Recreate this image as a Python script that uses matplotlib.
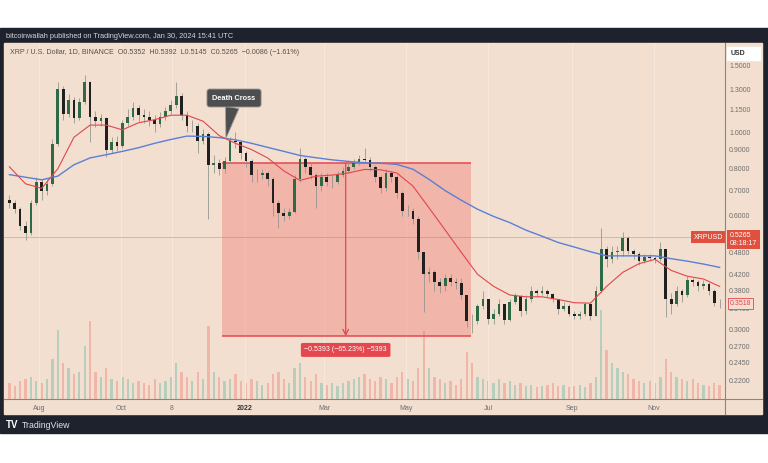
import numpy as np
import pandas as pd
import matplotlib
matplotlib.use('Agg')
import matplotlib.pyplot as plt
import matplotlib.dates as mdates
import matplotlib.transforms as mtransforms
from matplotlib.patches import Rectangle
from matplotlib.lines import Line2D
from matplotlib.ticker import NullLocator

plt.rcParams['font.family'] = ['Liberation Sans', 'DejaVu Sans']

# XRP/USD, 4-day candles (Jul 2021 - Dec 2022)
first_open = 0.66
close = [0.648, 0.625, 0.565, 0.54, 0.65, 0.74, 0.70, 0.73, 0.93, 1.30,
         1.12, 1.22, 1.09, 1.20, 1.36, 1.10, 1.07, 1.09, 0.90, 0.94,
         0.92, 1.06, 1.10, 1.16, 1.11, 1.10, 1.08, 1.05, 1.10, 1.14,
         1.18, 1.25, 1.11, 1.04, 1.04, 0.95, 0.99, 0.82, 0.83, 0.80,
         0.84, 0.95, 0.94, 0.88, 0.84, 0.77, 0.772, 0.78, 0.75, 0.65,
         0.61, 0.60, 0.615, 0.75, 0.85, 0.81, 0.77, 0.72, 0.76, 0.74,
         0.74, 0.77, 0.79, 0.81, 0.83, 0.85, 0.845, 0.81, 0.76, 0.71,
         0.78, 0.76, 0.69, 0.62, 0.62, 0.59, 0.48, 0.42, 0.425, 0.40,
         0.39, 0.41, 0.40, 0.398, 0.37, 0.316, 0.315, 0.345, 0.36, 0.32,
         0.33, 0.35, 0.318, 0.355, 0.368, 0.335, 0.362, 0.38, 0.375, 0.38,
         0.372, 0.36, 0.34, 0.345, 0.33, 0.326, 0.33, 0.35, 0.326, 0.38,
         0.49, 0.46, 0.48, 0.485, 0.525, 0.485, 0.475, 0.455, 0.467, 0.465,
         0.46, 0.49, 0.36, 0.35, 0.38, 0.37, 0.405, 0.40, 0.39, 0.395,
         0.38, 0.352, 0.3518]
high = [0.68, 0.66, 0.635, 0.58, 0.66, 0.76, 0.75, 0.75, 0.96, 1.36,
        1.33, 1.26, 1.24, 1.23, 1.42, 1.37, 1.14, 1.12, 1.10, 0.97,
        0.98, 1.08, 1.15, 1.20, 1.18, 1.15, 1.14, 1.11, 1.13, 1.17,
        1.22, 1.36, 1.27, 1.14, 1.08, 1.06, 1.02, 1.00, 0.87, 0.85,
        0.86, 0.97, 1.00, 0.95, 0.89, 0.85, 0.80, 0.80, 0.79, 0.76,
        0.66, 0.63, 0.63, 0.77, 0.91, 0.86, 0.83, 0.78, 0.78, 0.78,
        0.77, 0.79, 0.81, 0.83, 0.85, 0.87, 0.91, 0.86, 0.82, 0.77,
        0.80, 0.79, 0.77, 0.70, 0.64, 0.63, 0.60, 0.48, 0.44, 0.43,
        0.41, 0.42, 0.42, 0.41, 0.41, 0.37, 0.33, 0.35, 0.38, 0.36,
        0.34, 0.36, 0.35, 0.36, 0.375, 0.37, 0.37, 0.39, 0.385, 0.39,
        0.385, 0.375, 0.36, 0.355, 0.35, 0.335, 0.335, 0.355, 0.352, 0.39,
        0.557, 0.50, 0.50, 0.50, 0.544, 0.53, 0.49, 0.48, 0.475, 0.475,
        0.47, 0.51, 0.49, 0.375, 0.39, 0.385, 0.415, 0.41, 0.405, 0.405,
        0.40, 0.385, 0.36]
low = [0.63, 0.61, 0.55, 0.518, 0.535, 0.64, 0.66, 0.68, 0.72, 0.92,
       1.08, 1.10, 1.06, 1.08, 1.19, 0.94, 1.03, 1.04, 0.86, 0.88,
       0.89, 0.91, 1.04, 1.08, 1.07, 1.06, 1.04, 1.00, 1.03, 1.08,
       1.12, 1.16, 1.08, 1.00, 1.00, 0.88, 0.93, 0.59, 0.78, 0.77,
       0.78, 0.83, 0.91, 0.85, 0.81, 0.74, 0.74, 0.75, 0.72, 0.60,
       0.557, 0.58, 0.59, 0.61, 0.74, 0.78, 0.75, 0.63, 0.70, 0.72,
       0.71, 0.73, 0.76, 0.78, 0.80, 0.82, 0.83, 0.79, 0.74, 0.69,
       0.70, 0.74, 0.67, 0.60, 0.60, 0.57, 0.46, 0.334, 0.40, 0.38,
       0.375, 0.38, 0.39, 0.385, 0.36, 0.305, 0.294, 0.31, 0.34, 0.31,
       0.31, 0.325, 0.31, 0.315, 0.35, 0.325, 0.33, 0.355, 0.365, 0.37,
       0.365, 0.355, 0.33, 0.335, 0.325, 0.32, 0.32, 0.325, 0.318, 0.325,
       0.375, 0.44, 0.45, 0.46, 0.47, 0.475, 0.46, 0.445, 0.45, 0.455,
       0.45, 0.455, 0.324, 0.33, 0.345, 0.355, 0.365, 0.39, 0.38, 0.385,
       0.37, 0.345, 0.342]
volume = [18, 15, 20, 22, 25, 20, 18, 22, 45, 78,
          40, 35, 28, 30, 60, 88, 30, 25, 35, 22,
          20, 25, 22, 18, 20, 18, 16, 22, 18, 20,
          25, 40, 30, 25, 20, 30, 22, 82, 30, 25,
          20, 22, 28, 20, 18, 22, 20, 16, 18, 28,
          30, 22, 18, 35, 40, 25, 20, 28, 18, 16,
          18, 15, 18, 20, 22, 25, 28, 22, 20, 25,
          22, 18, 25, 30, 22, 20, 35, 76, 35, 25,
          22, 18, 20, 16, 22, 53, 40, 25, 22, 20,
          18, 22, 18, 20, 16, 18, 15, 16, 14, 15,
          16, 18, 15, 16, 14, 15, 16, 14, 18, 25,
          100, 55, 40, 35, 30, 28, 22, 20, 18, 20,
          18, 25, 45, 30, 25, 22, 20, 22, 18, 16,
          15, 18, 16]

# moving averages, read every third candle
ma50 = [0.81, 0.73, 0.71, 0.80, 0.97, 1.045, 1.045, 1.015, 1.06, 1.08,
        1.11, 1.11, 1.07, 0.98, 0.935, 0.90, 0.855, 0.79, 0.745, 0.765,
        0.77, 0.78, 0.797, 0.795, 0.78, 0.72, 0.63, 0.55, 0.48, 0.42,
        0.39, 0.37, 0.366, 0.366, 0.36, 0.353, 0.352, 0.39, 0.425, 0.448,
        0.46, 0.43, 0.415, 0.408, 0.39]
ma200 = [0.772, 0.76, 0.748, 0.765, 0.82, 0.855, 0.872, 0.89, 0.91, 0.935,
         0.957, 0.977, 0.975, 0.968, 0.955, 0.935, 0.912, 0.89, 0.868, 0.856,
         0.845, 0.837, 0.83, 0.828, 0.822, 0.798, 0.75, 0.70, 0.66, 0.625,
         0.598, 0.576, 0.55, 0.53, 0.51, 0.496, 0.482, 0.47, 0.47, 0.47,
         0.47, 0.462, 0.455, 0.447, 0.438]

price_ticks = [1.5, 1.3, 1.15, 1.0, 0.9, 0.8, 0.7, 0.6, 0.54, 0.48, 0.42,
               0.38, 0.34, 0.30, 0.27, 0.245, 0.22]
month_ticks = ['2021-08-01', '2021-10-01', '2021-11-08', '2022-01-01', '2022-03-01',
               '2022-05-01', '2022-07-01', '2022-09-01', '2022-11-01']
month_labels = ['Aug', 'Oct', '8', '2022', 'Mar', 'May', 'Jul', 'Sep', 'Nov']

last_price = 0.5265
close_tag = 0.3518
measure_top = 0.8268
measure_bottom = 0.2875
measure_start = '2021-12-15'
measure_end = '2022-06-18'
measure_arrow = '2022-03-17'
measure_text = '\u22120.5393 (\u221265.23%) \u22125393'
cross_date = '2021-12-18'
cross_price = 0.963

dates = pd.date_range('2021-07-10', periods=len(close), freq='4D')
opens = [first_open] + close[:-1]
o = np.array(opens)
c = np.array(close)

BG = '#f2dfd0'
DARK = '#1e222d'
UP = '#2f6a47'
DOWN = '#202020'
WICK = '#959890'
RED = '#e5474f'

W, H = 768, 463
fig = plt.figure(figsize=(W / 100, H / 100), dpi=100)
fig.patch.set_facecolor('white')
fig.add_artist(Rectangle((0, 30 / H), 1, 405 / H, transform=fig.transFigure,
                         color=DARK, zorder=-3))
fig.add_artist(Rectangle((4 / W, 49 / H), 758 / W, 371 / H, transform=fig.transFigure,
                         color=BG, zorder=-2))

rect = [4 / W, 64 / H, 721 / W, 356 / H]

# volume pane underneath
axv = fig.add_axes(rect)
up = c >= o
vcol = np.where(up, '#3fae98', '#f0645f')
axv.bar(dates, volume, width=1.7, color=vcol, alpha=0.33, linewidth=0)
axv.set_ylim(0, 400)
axv.axis('off')

ax = fig.add_axes(rect, sharex=axv)
ax.patch.set_visible(False)
ax.set_yscale('log')
ax.set_ylim(0.196, 1.7256)
ax.set_xlim(pd.Timestamp('2021-07-06'), pd.Timestamp('2022-12-24'))

ax.grid(axis='x', color='#f7e9de', lw=0.7)
ax.set_axisbelow(True)

ax.axhline(last_price, color='#eba886', lw=0.6, zorder=1)

# measure box
x0 = mdates.date2num(pd.Timestamp(measure_start))
x1 = mdates.date2num(pd.Timestamp(measure_end))
ax.add_patch(Rectangle((x0, measure_bottom), x1 - x0, measure_top - measure_bottom,
                       facecolor='#f0544f', alpha=0.3, edgecolor='none', zorder=1.5))
ax.hlines([measure_top, measure_bottom], x0, x1, color=RED, lw=1.1, zorder=1.6)

# candles
ax.vlines(dates, low, high, color=WICK, lw=0.6, zorder=2)
ax.bar(dates, np.abs(c - o), bottom=np.minimum(o, c), width=2.0,
       color=np.where(up, UP, DOWN), linewidth=0, zorder=2.2)

md = dates[::3]
ax.plot(md, ma50, color='#e0474c', lw=0.8, zorder=2.4)
ax.plot(md, ma200, color='#5b7fd6', lw=1.0, zorder=2.3)

xa = mdates.date2num(pd.Timestamp(measure_arrow))
ax.annotate('', xy=(xa, measure_bottom), xytext=(xa, measure_top),
            arrowprops=dict(arrowstyle='->', color=RED, lw=0.9, mutation_scale=10,
                            shrinkA=0, shrinkB=0), zorder=3)
ax.text(xa, 0.2645, measure_text, ha='center', va='center', fontsize=5, color='white',
        bbox=dict(boxstyle='round,pad=0.5,rounding_size=0.25', fc=RED, ec='none'), zorder=5)

ax.annotate('Death Cross', xy=(mdates.date2num(pd.Timestamp(cross_date)), cross_price),
            xytext=(mdates.date2num(pd.Timestamp('2021-12-24')), 1.233),
            ha='center', va='center', fontsize=5.3, weight='bold', color='white',
            bbox=dict(boxstyle='round,pad=0.75,rounding_size=0.35', fc='#4e4e4e',
                      ec='#a0a0a0', lw=0.6),
            arrowprops=dict(arrowstyle='wedge,tail_width=1.1', fc='#4e4e4e', ec='#a0a0a0',
                            lw=0.6, mutation_scale=9, shrinkA=0, shrinkB=0), zorder=5)

# axes styling
ax.yaxis.tick_right()
ax.set_yticks(price_ticks)
ax.yaxis.set_minor_locator(NullLocator())
ax.set_yticklabels([f'{t:.4f}' for t in price_ticks])
ax.tick_params(axis='y', length=0, pad=3, labelsize=5, colors='#6e6e6e')
ax.set_xticks([mdates.date2num(pd.Timestamp(d)) for d in month_ticks])
ax.set_xticklabels(month_labels)
ax.xaxis.set_minor_locator(NullLocator())
ax.tick_params(axis='x', length=0, pad=4.5, labelsize=5, colors='#6e6e6e')
for lbl in ax.get_xticklabels():
    if lbl.get_text() == '2022':
        lbl.set_fontweight('bold')
        lbl.set_color('#333333')
for s in ax.spines.values():
    s.set_visible(False)

blend = mtransforms.blended_transform_factory(ax.transAxes, ax.transData)
ax.text(0.997, last_price, 'XRPUSD', transform=blend, ha='right', va='center', fontsize=5,
        color='white', bbox=dict(boxstyle='square,pad=0.35', fc='#e0503f', ec='none'), zorder=6)
ax.annotate('0.5265\n08:18:17', xy=(1, last_price), xycoords=blend, xytext=(3.5, 3.8),
            textcoords='offset points', ha='left', va='top', fontsize=5, color='white',
            linespacing=1.15, annotation_clip=False,
            bbox=dict(boxstyle='square,pad=0.35', fc='#e0503f', ec='none'), zorder=6)
ax.annotate(f'{close_tag:.4f}', xy=(1, close_tag), xycoords=blend, xytext=(3.5, 0),
            textcoords='offset points', ha='left', va='center', fontsize=5, color=RED,
            annotation_clip=False,
            bbox=dict(boxstyle='square,pad=0.3', fc=BG, ec=RED, lw=0.6), zorder=6)

# separators
fig.add_artist(Line2D([725 / W, 725 / W], [49 / H, 420 / H], transform=fig.transFigure,
                      color='#8a8580', lw=0.8))
fig.add_artist(Line2D([4 / W, 762 / W], [64 / H, 64 / H], transform=fig.transFigure,
                      color='#8a8580', lw=0.8))

# header / footer
fig.text(6 / W, 1 - 37 / H, 'bitcoinwallah published on TradingView.com, Jan 30, 2024 15:41 UTC',
         color='#d1d4dc', fontsize=5.3, va='center')
fig.text(10 / W, 1 - 53 / H,
         'XRP / U.S. Dollar, 1D, BINANCE  O0.5352  H0.5392  L0.5145  C0.5265  \u22120.0086 (\u22121.61%)',
         color='#5a5048', fontsize=5.1, va='center')
fig.add_artist(Rectangle((727 / W, 1 - 60 / H), 33 / W, 13 / H, transform=fig.transFigure,
                         color='white'))
fig.text(731 / W, 1 - 53.5 / H, 'USD', fontsize=5, weight='bold', color='#333333', va='center')
fig.text(6 / W, 1 - 425 / H, 'TV', fontsize=7, weight='heavy', color='white', va='center')
fig.text(22 / W, 1 - 425 / H, 'TradingView', fontsize=6.3, color='#e0e3eb', va='center')

fig.savefig('out.png', dpi=100, facecolor=fig.get_facecolor())
